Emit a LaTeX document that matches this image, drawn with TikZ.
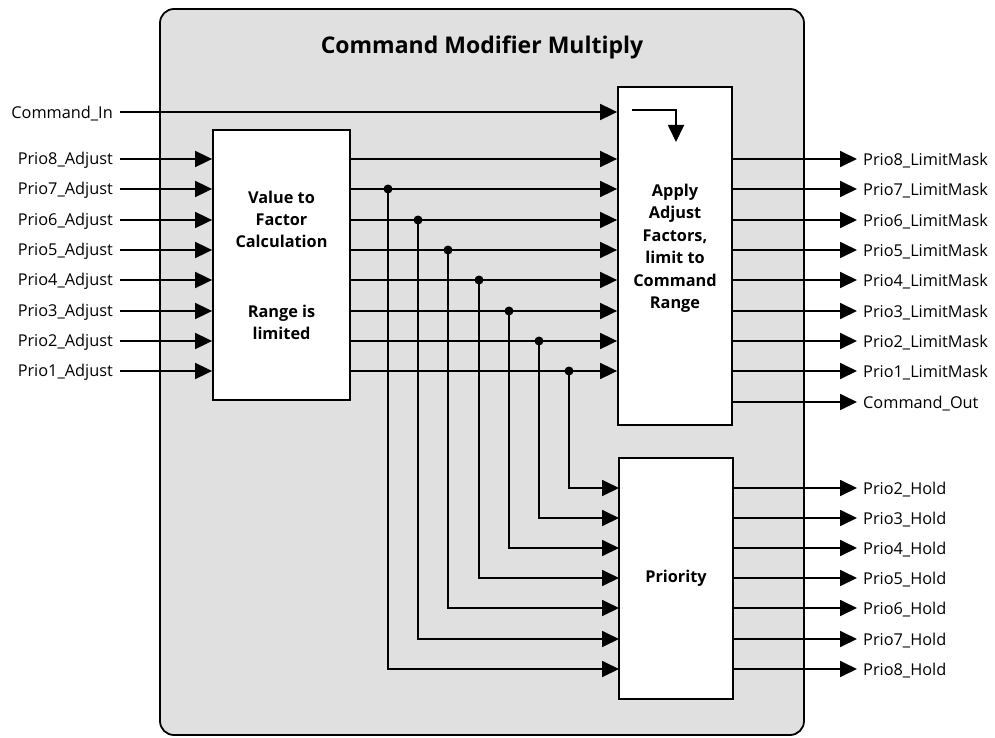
\documentclass[tikz,border=0pt]{standalone}
\usepackage{fontspec}
\setmainfont{Open Sans}
\usetikzlibrary{arrows.meta,calc}
\definecolor{panel}{HTML}{E0E0E0}
\tikzset{
  lbl/.style={font=\fontsize{16.3}{18}\selectfont, inner sep=0pt, yshift=-1.5pt},
  btxt/.style={font=\bfseries\fontsize{16.3}{22.5}\selectfont, align=center},
  blk/.style={draw, line width=1.8pt, fill=white, inner sep=0pt, btxt},
  arr/.style={line width=1.8pt, -{Triangle[length=17pt,width=16pt]}},
  junc/.style={circle, fill=black, inner sep=0pt, minimum size=9pt}
}
\begin{document}
\begin{tikzpicture}[x=1pt,y=-1pt]
\useasboundingbox (0,0) rectangle (995,738);
\draw[line width=1.8pt, fill=panel, rounded corners=14pt] (160,9) rectangle (804,735);
\node[font=\bfseries\fontsize{23}{25}\selectfont] (title) at (482,47) {Command Modifier Multiply};
\node[blk, minimum width=137pt, minimum height=270pt] (val) at (281.5,265) {};
\node[btxt, font=\bfseries\fontsize{16.3}{22}\selectfont] (valt1) at (281.5,219) {Value to\\Factor\\Calculation};
\node[btxt, font=\bfseries\fontsize{16.3}{22}\selectfont] (valt2) at (281.5,322) {Range is\\limited};
\node[blk, minimum width=114pt, minimum height=338pt] (app) at (675,256) {};
\node[btxt] (appt) at (675,248.5) {Apply\\Adjust\\Factors,\\limit to\\Command\\Range};
\node[blk, minimum width=114pt, minimum height=241pt] (pri) at (676,578.5) {Priority};
% Command in
\node[lbl, anchor=east] (cin) at (113,112) {Command\_In};
\coordinate (cs) at (120,112);
\draw[arr] (cs) -- (app.west |- cs);
\coordinate (ia) at (632,110);
\coordinate (ib) at (676,142);
\draw[arr] (ia) -| (ib);
% inputs / outputs
\foreach \k/\yy in {8/159, 7/189, 6/220, 5/250, 4/280, 3/311, 2/341, 1/371}{
  \node[lbl, anchor=east] (in\k) at (113,\yy) {Prio\k\_Adjust};
  \coordinate (s\k) at (120,\yy);
  \draw[arr] (s\k) -- (val.west |- s\k);
  \coordinate (m\k) at (350,\yy);
  \draw[arr] (m\k) -- (app.west |- m\k);
  \coordinate (o\k) at (732,\yy);
  \coordinate (e\k) at (857,\yy);
  \node[lbl, anchor=west] (out\k) at (863,\yy) {Prio\k\_LimitMask};
  \draw[arr] (o\k) -- (e\k);
}
\node[lbl, anchor=west] (cout) at (863,402) {Command\_Out};
\coordinate (oc) at (732,402);
\coordinate (ec) at (857,402);
\draw[arr] (oc) -- (ec);
% branches to priority
\foreach \k/\xx/\py in {7/388/669, 6/418/639, 5/448/608, 4/479/578, 3/509/548, 2/539/518, 1/569/488}{
  \node[junc] (j\k) at (m\k -| \xx,0) {};
  \coordinate (pt\k) at (619,\py);
  \draw[arr] (j\k.center) |- (pt\k);
}
\foreach \n/\yy in {2/488, 3/518, 4/548, 5/578, 6/608, 7/639, 8/669}{
  \node[lbl, anchor=west] (h\n) at (863,\yy) {Prio\n\_Hold};
  \coordinate (ho\n) at (733,\yy);
  \coordinate (he\n) at (857,\yy);
  \draw[arr] (ho\n) -- (he\n);
}
\end{tikzpicture}
\end{document}
